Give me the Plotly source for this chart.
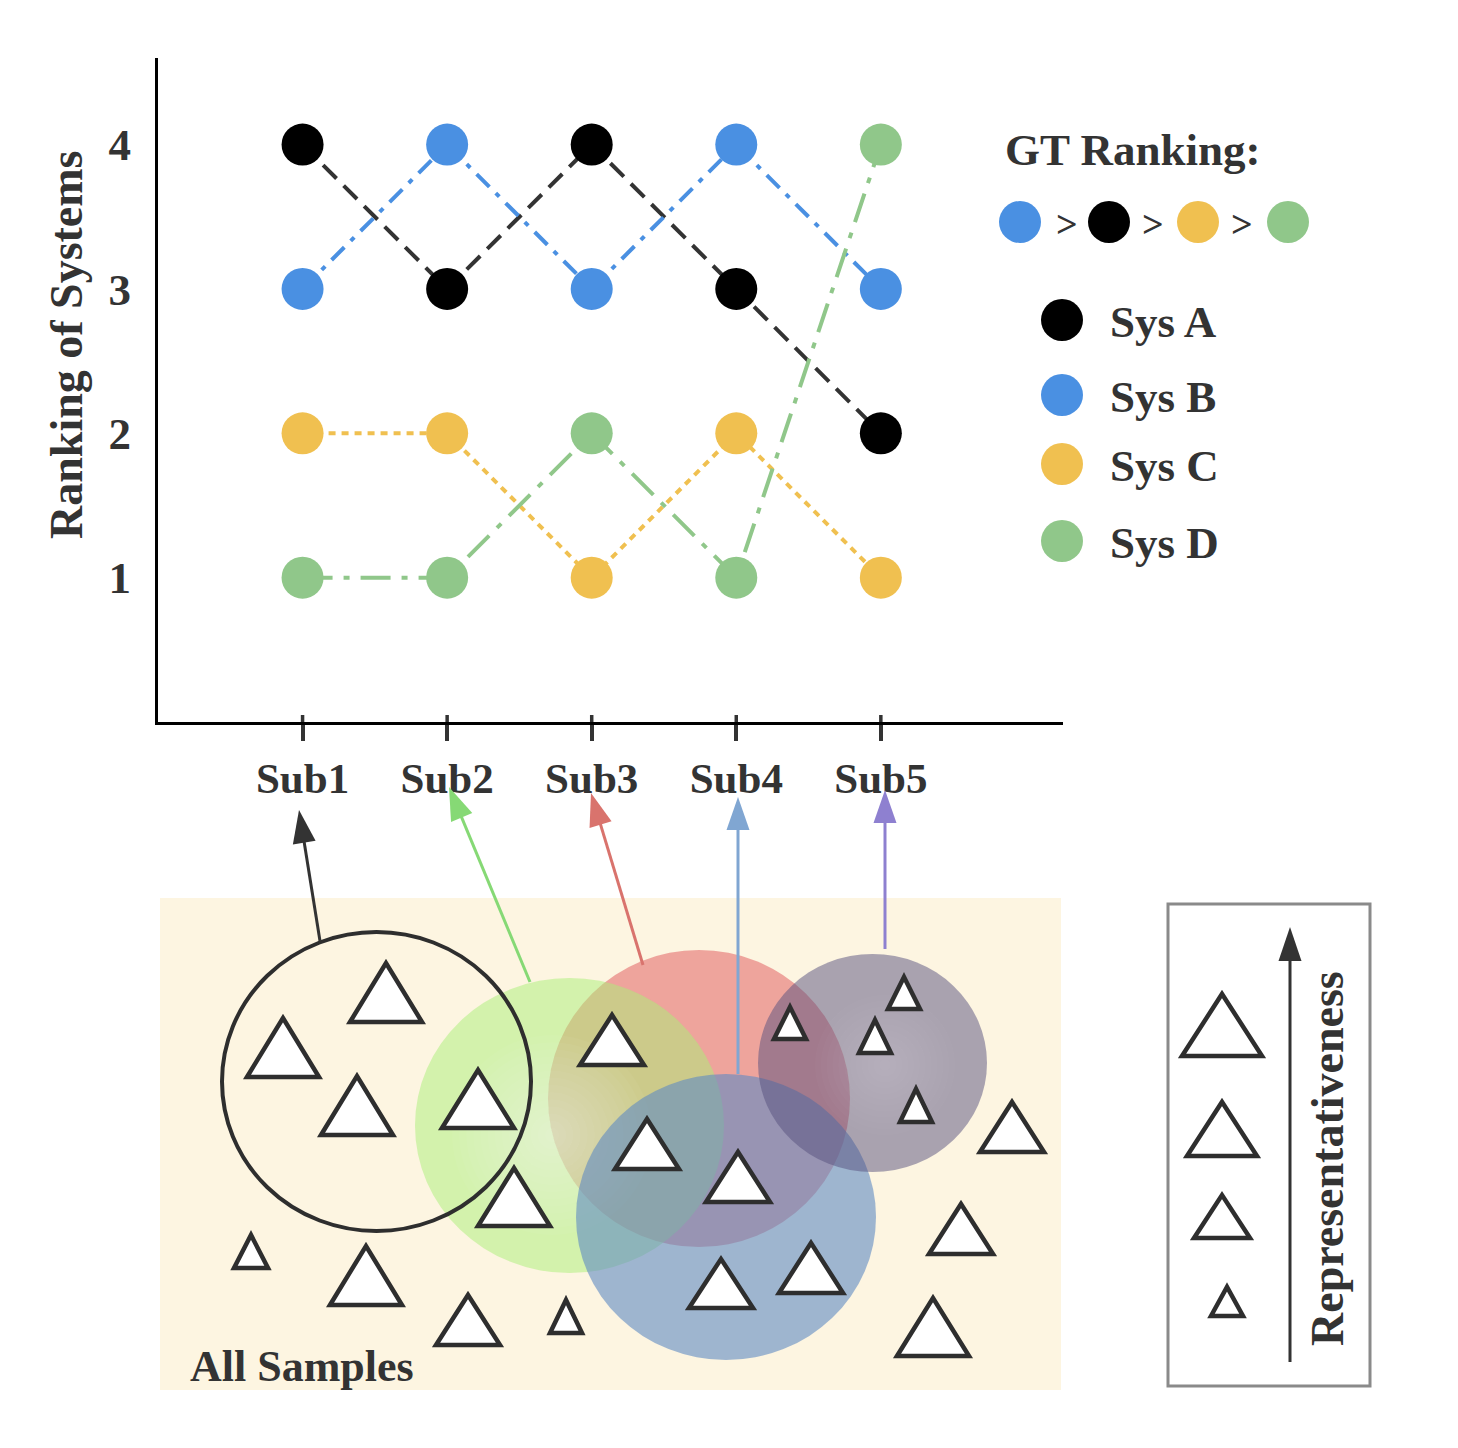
import math
import plotly.graph_objects as go

W, H = 1458, 1448
OFF = 8  # page body margin of the browser

# ---------------- data ----------------
subsets = ["Sub1", "Sub2", "Sub3", "Sub4", "Sub5"]
subset_pos = [1, 2, 3, 4, 5]
systems = ["Sys A", "Sys B", "Sys C", "Sys D"]
rank_sys_a = [4, 3, 4, 3, 2]
rank_sys_b = [3, 4, 3, 4, 3]
rank_sys_c = [2, 2, 1, 2, 1]
rank_sys_d = [1, 1, 2, 1, 4]
rank_ticks = [1, 2, 3, 4]
gt_ranking = ["Sys B", "Sys A", "Sys C", "Sys D"]

ranks = {"Sys A": rank_sys_a, "Sys B": rank_sys_b, "Sys C": rank_sys_c, "Sys D": rank_sys_d}

# ---------------- styles ----------------
FONT = "Liberation Serif, Times New Roman, serif"
TXT = "#333333"
marker_color = {"Sys A": "#000000", "Sys B": "#4A90E2", "Sys C": "#F0C050", "Sys D": "#90C78A"}
line_color = {"Sys A": "#333333", "Sys B": "#4A90E2", "Sys C": "#F0C050", "Sys D": "#90C78A"}
line_dash = {"Sys A": "19px,10px", "Sys B": "18px,9px,5px,9px",
             "Sys C": "7px,6px", "Sys D": "30px,11px,6px,11px"}

# plot area (target pixels), compensated for page offset
PL, PR, PT, PB = 158 - OFF, 1063 - OFF, 58 - OFF, 722 - OFF
Y_MAX = 4.6
PX_PER_RANK = (PB - PT) / Y_MAX

fig = go.Figure()
for s in systems:
    fig.add_trace(go.Scatter(
        x=subset_pos, y=ranks[s], mode="lines+markers", name=s,
        line=dict(color=line_color[s], width=4, dash=line_dash[s]),
        marker=dict(color=marker_color[s], size=42, line=dict(width=0)),
        showlegend=False, cliponaxis=False, hoverinfo="x+y+name"))

# ---------------- legend (drawn in pixel overlay axes) ----------------
gt_marker_x = [1020, 1109, 1198, 1288]
gt_marker_y = 222
gt_sep_x = [1067, 1153, 1242]
leg_marker_x = 1062
leg_marker_y = [320, 395, 464, 541]
leg_text_x = 1108

fig.add_trace(go.Scatter(
    x=gt_marker_x, y=[gt_marker_y] * 4, xaxis="x2", yaxis="y2", mode="markers",
    marker=dict(size=42, color=[marker_color[s] for s in gt_ranking], line=dict(width=0)),
    hoverinfo="skip", showlegend=False))
fig.add_trace(go.Scatter(
    x=[leg_marker_x] * 4, y=leg_marker_y, xaxis="x2", yaxis="y2", mode="markers",
    marker=dict(size=42, color=[marker_color[s] for s in systems], line=dict(width=0)),
    hoverinfo="skip", showlegend=False))

shapes = []
annotations = []

# tick marks poke a little above the x axis line
for p in subset_pos:
    shapes.append(dict(type="line", xref="x", yref="y", x0=p, x1=p, y0=0, y1=7 / PX_PER_RANK,
                       line=dict(color="#333333", width=3.5)))


def px_shape(**kw):
    kw.setdefault("xref", "x2")
    kw.setdefault("yref", "y2")
    shapes.append(kw)


def ellipse(x0, y0, x1, y1, fill="rgba(0,0,0,0)", line_color="rgba(0,0,0,0)", lw=0):
    px_shape(type="circle", x0=x0, y0=y0, x1=x1, y1=y1, fillcolor=fill,
             line=dict(color=line_color, width=lw))


def glow(cx, cy, r_max, steps, color):
    for i in range(steps):
        r = r_max * (steps - i) / steps
        ellipse(cx - r, cy - r, cx + r, cy + r, fill=color)


def triangle(cx, top, base, hw, lw=4.5):
    path = f"M{cx - hw},{base} L{cx},{top} L{cx + hw},{base} Z"
    px_shape(type="path", path=path, fillcolor="white", line=dict(color="#2E2E2E", width=lw))


def arrow(x0, y0, x1, y1, color, head_len=33, head_hw=11.5, lw=3):
    dx, dy = x1 - x0, y1 - y0
    d = math.hypot(dx, dy)
    ux, uy = dx / d, dy / d
    bx, by = x1 - ux * head_len, y1 - uy * head_len
    px_shape(type="line", x0=x0, y0=y0, x1=bx + ux * 2, y1=by + uy * 2,
             line=dict(color=color, width=lw))
    pxv, pyv = -uy, ux
    path = (f"M{x1},{y1} L{bx + pxv * head_hw},{by + pyv * head_hw} "
            f"L{bx - pxv * head_hw},{by - pyv * head_hw} Z")
    px_shape(type="path", path=path, fillcolor=color, line=dict(color=color, width=0))


# ---------------- bottom diagram ----------------
px_shape(type="rect", x0=160, y0=898, x1=1061, y1=1390, fillcolor="#FDF5E1",
         line=dict(width=0))
ellipse(548, 950, 850, 1247, fill="rgba(228,110,110,0.6)")          # Sub3
ellipse(415, 978, 724, 1273, fill="rgba(170,240,120,0.5)")          # Sub2
glow(552, 1135, 100, 14, "rgba(255,255,255,0.04)")
ellipse(576, 1074, 876, 1360, fill="rgba(95,138,195,0.6)")          # Sub4
ellipse(758, 954, 987, 1172, fill="rgba(85,80,125,0.5)")            # Sub5
glow(885, 1065, 70, 12, "rgba(255,255,255,0.02)")
ellipse(222, 932, 531, 1231, line_color="#2E2E2E", lw=4)            # Sub1

arrow(320, 941, 299, 810, "#333333")
arrow(530, 982, 449, 787, "#86D975")
arrow(643, 965, 591, 793, "#D9736D")
arrow(738, 1074, 738, 797, "#80A6D2")
arrow(885, 949, 885, 790, "#8E80D0")

samples = [
    (386, 963, 1022, 36), (283, 1018, 1077, 36), (357, 1076, 1135, 36),
    (478, 1070, 1128, 36), (514, 1168, 1226, 36),
    (612, 1015, 1065, 32), (647, 1119, 1169, 32), (738, 1152, 1202, 32),
    (721, 1259, 1308, 32), (811, 1243, 1293, 32),
    (790, 1007, 1039, 16), (904, 977, 1009, 16), (875, 1020, 1053, 16), (916, 1089, 1122, 16),
    (1012, 1102, 1152, 32), (961, 1204, 1254, 32), (933, 1298, 1356, 36),
    (251, 1235, 1268, 17), (366, 1246, 1305, 36), (468, 1295, 1345, 32), (566, 1300, 1333, 16),
]
for cx, top, base, hw in samples:
    triangle(cx, top, base, hw)

annotations.append(dict(x=188, y=1366, xref="x2", yref="y2", text="<b>All Samples</b>",
                        showarrow=False, xanchor="left", yanchor="middle",
                        font=dict(family=FONT, size=44, color=TXT)))

# ---------------- representativeness key ----------------
px_shape(type="rect", x0=1168, y0=904, x1=1370, y1=1386, fillcolor="white",
         line=dict(color="#8A8A8A", width=3))
arrow(1290, 1362, 1290, 927, "#333333", head_len=34, head_hw=11.5)
for cx, top, base, hw in [(1222, 994, 1056, 40), (1222, 1102, 1156, 35),
                          (1222, 1195, 1238, 28), (1227, 1287, 1316, 16)]:
    triangle(cx, top, base, hw)
annotations.append(dict(x=1327, y=1159, xref="x2", yref="y2", text="<b>Representativeness</b>",
                        showarrow=False, textangle=-90, xanchor="center", yanchor="middle",
                        font=dict(family=FONT, size=46, color=TXT)))

# ---------------- legend texts ----------------
annotations.append(dict(x=1003, y=150, xref="x2", yref="y2", text="<b>GT Ranking:</b>",
                        showarrow=False, xanchor="left", yanchor="middle",
                        font=dict(family=FONT, size=45, color=TXT)))
for x in gt_sep_x:
    annotations.append(dict(x=x, y=gt_marker_y + 2, xref="x2", yref="y2", text="<b>&gt;</b>",
                            showarrow=False, xanchor="center", yanchor="middle",
                            font=dict(family=FONT, size=38, color=TXT)))
for s, y in zip(systems, leg_marker_y):
    annotations.append(dict(x=leg_text_x, y=y + 2, xref="x2", yref="y2", text=f"<b>{s}</b>",
                            showarrow=False, xanchor="left", yanchor="middle",
                            font=dict(family=FONT, size=45, color=TXT)))

# y-axis title
annotations.append(dict(x=66, y=345, xref="x2", yref="y2", text="<b>Ranking of Systems</b>",
                        showarrow=False, textangle=-90, xanchor="center", yanchor="middle",
                        font=dict(family=FONT, size=46, color=TXT)))

fig.update_layout(
    width=W, height=H,
    margin=dict(l=0, r=0, t=0, b=0),
    paper_bgcolor="white", plot_bgcolor="rgba(0,0,0,0)",
    showlegend=False,
    xaxis=dict(domain=[PL / W, PR / W], range=[0, 6.26], tickmode="array",
               tickvals=subset_pos, ticktext=[f"<b>{t}</b>" for t in subsets],
               ticks="outside", ticklen=16, tickwidth=3.5, tickcolor="#333333",
               showline=True, linecolor="black", linewidth=3, showgrid=False, zeroline=False,
               tickfont=dict(family=FONT, size=43, color=TXT), fixedrange=True),
    yaxis=dict(domain=[1 - PB / H, 1 - PT / H], range=[0, Y_MAX], tickmode="array",
               tickvals=rank_ticks, ticktext=[f"<b>{v}</b>" for v in rank_ticks],
               ticks="", showline=True, linecolor="black", linewidth=3,
               showgrid=False, zeroline=False, ticklabelstandoff=15,
               tickfont=dict(family=FONT, size=45, color=TXT), fixedrange=True),
    xaxis2=dict(domain=[0, 1], range=[OFF, W + OFF], visible=False, anchor="y2", fixedrange=True),
    yaxis2=dict(domain=[0, 1], range=[H + OFF, OFF], visible=False, anchor="x2", fixedrange=True),
    shapes=shapes,
    annotations=annotations,
)

fig.write_html("out.html")
